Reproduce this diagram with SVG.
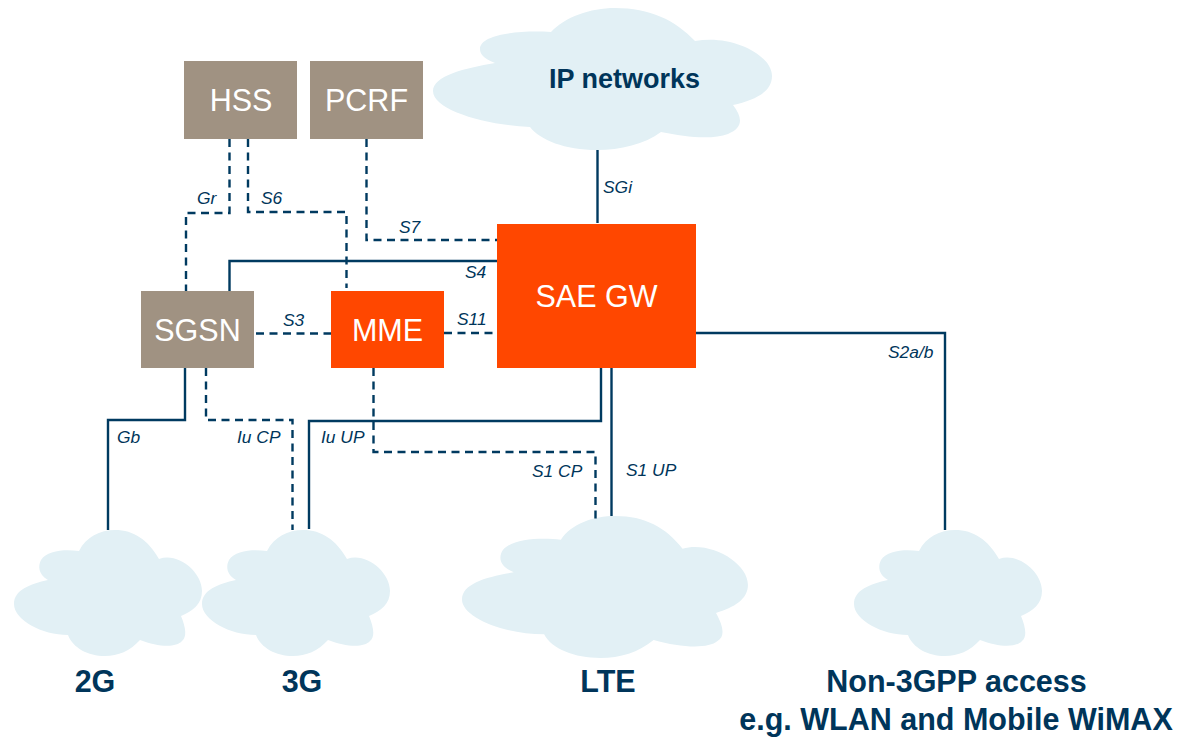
<svg xmlns="http://www.w3.org/2000/svg" xmlns:xlink="http://www.w3.org/1999/xlink" width="1191" height="737" viewBox="0 0 1191 737">
<style>
text{font-family:"Liberation Sans",Arial,sans-serif}
.cloud{fill:#e2f0f5}
.grey{fill:#a09282}
.red{fill:#ff4700}
.node{fill:#fff;font-size:30.500px;text-anchor:middle}
.head{fill:#00355a;font-size:30.500px;font-weight:bold;text-anchor:middle}
.ip{font-size:27px}
.lab{fill:#00355a;font-size:17.400px;font-style:italic}
.s,.d{fill:none;stroke:#003a60;stroke-width:2.4}
.d{stroke-dasharray:8 5.5}
</style>
<defs>
<path id="c" d="M79 551C86 537 100 530 115 530C134 530 148 540 159 559C178 552 202 572 202 591C202 604 193 611 181 616C186 628 187 637 182 641C176 648 158 647 140 640C130 651 118 656 105 656C88 656 73 648 68 635C42 635 14 620 14 604C14 590 30 584 48 580C38 574 38 566 41 560C47 550 66 549 79 551Z"/>
</defs>
<rect width="1191" height="737" fill="#fff"/>
<g id="cloud-ip"><path class="cloud" d="M551 32C565 17 590 8 615 8C650 8 675 20 695 41C732 34 772 55 772 76C772 92 755 100 733 105C743 118 743 128 728 134C712 140 685 137 661 132C645 144 620 150 597 150C565 150 540 140 530 127C485 125 433 110 433 91C433 76 465 68 495 63C483 58 480 54 480 49C480 34 520 30 551 32Z"/><text class="head ip" x="624.500" y="88">IP networks</text></g>
<g id="cloud-2g"><use xlink:href="#c" class="cloud"/><text class="head" x="95" y="692">2G</text></g>
<g id="cloud-3g"><use xlink:href="#c" class="cloud" transform="translate(188 0)"/><text class="head" x="302" y="692">3G</text></g>
<g id="cloud-lte"><use xlink:href="#c" class="cloud" transform="translate(462 516) scale(1.521 1.127) translate(-14 -530)"/><text class="head" x="608" y="692">LTE</text></g>
<g id="cloud-non3gpp"><use xlink:href="#c" class="cloud" transform="translate(840 0)"/><text class="head" x="956.500" y="692">Non-3GPP access</text><text class="head" x="956" y="730">e.g. WLAN and Mobile WiMAX</text></g>
<g id="connectors">
<path class="d" d="M229.500 139V213H186V291"/>
<path class="d" d="M248 139V212H346.500V288"/>
<path class="d" d="M366.500 139V240H497"/>
<path class="s" d="M229.500 291V261H497"/>
<path class="d" d="M256 333.500H331"/>
<path class="d" d="M444 333H497"/>
<path class="s" d="M185 368V420H108V530"/>
<path class="d" d="M206 368V420H292.500V530"/>
<path class="s" d="M601 368V421H309V529"/>
<path class="d" d="M373.500 368V452H595.500V519"/>
<path class="s" d="M611.500 368V516"/>
<path class="s" d="M696 333H945V530"/>
<path class="s" d="M597.500 150V223"/>
<text class="lab" x="197" y="204">Gr</text>
<text class="lab" x="261" y="204">S6</text>
<text class="lab" x="399" y="233">S7</text>
<text class="lab" x="465" y="278">S4</text>
<text class="lab" x="283" y="326">S3</text>
<text class="lab" x="457" y="325">S11</text>
<text class="lab" x="603" y="193">SGi</text>
<text class="lab" x="888" y="358">S2a/b</text>
<text class="lab" x="117" y="443">Gb</text>
<text class="lab" x="237" y="443">Iu CP</text>
<text class="lab" x="321" y="443">Iu UP</text>
<text class="lab" x="532" y="477">S1 CP</text>
<text class="lab" x="626" y="476">S1 UP</text>
</g>
<g id="hss"><rect class="grey" x="184" y="61" width="113" height="78"/><text class="node" x="241" y="111">HSS</text></g>
<g id="pcrf"><rect class="grey" x="310" y="61" width="113" height="78"/><text class="node" x="366.500" y="111">PCRF</text></g>
<g id="sgsn"><rect class="grey" x="141" y="291" width="113" height="77"/><text class="node" x="197.500" y="341">SGSN</text></g>
<g id="mme"><rect class="red" x="331" y="291" width="113" height="77"/><text class="node" x="387.500" y="341">MME</text></g>
<g id="sae-gw"><rect class="red" x="497" y="224" width="199" height="144"/><text class="node" x="596.500" y="307">SAE GW</text></g>
</svg>
